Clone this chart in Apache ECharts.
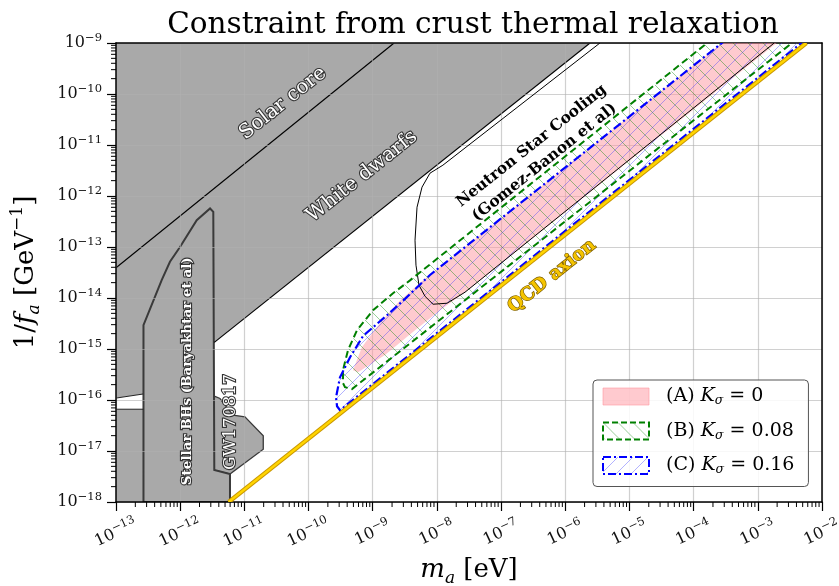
<!DOCTYPE html>
<html>
<head>
<meta charset="utf-8">
<script src="https://cdn.jsdelivr.net/npm/echarts@6/dist/echarts.min.js"></script>
<style>
  html, body { margin: 0; padding: 0; background: #fff; }
  #chart { width: 839px; height: 586px; }
</style>
</head>
<body>
<div id="chart"></div>
<script>
// ---- Axis extents (powers of ten) ----
const xDecades = [-13, -2];   // m_a [eV]
const yDecades = [-18, -9];   // 1/f_a [GeV^-1]

// ---- Excluded regions, points as [m_a (eV), 1/f_a (GeV^-1)] ----
const solarWdRegion = [[1e-13, 1e-9], [2.43e-6, 1e-9], [3.4e-12, 1.35e-15], [2.64e-13, 1.31e-16], [1e-13, 1.09e-16]];
const lowLeftRegion = [[1e-13, 6.6e-17], [2.68e-13, 6.6e-17], [2.68e-13, 1e-18], [1e-13, 1e-18]];
const solarCoreLine = [[1e-13, 3.9e-14], [2.15e-9, 1e-9]];
const whiteDwarfLine = [[3.4e-12, 1.35e-15], [2.43e-6, 1e-9]];
const stripTopLine = [[1e-13, 1.09e-16], [2.64e-13, 1.31e-16]];
const stripBottomLine = [[1e-13, 6.6e-17], [2.68e-13, 6.6e-17]];
const stellarBH = [[2.68e-13, 1e-18], [2.68e-13, 2.94e-15], [5.15e-13, 2.24e-14], [6.93e-13, 5.14e-14],
  [9.93e-13, 1.0e-13], [1.81e-12, 3.36e-13], [2.92e-12, 5.69e-13], [3.28e-12, 4.88e-13],
  [3.40e-12, 4.23e-18], [5.97e-12, 3.53e-18], [5.97e-12, 1e-18]];
const gw170817 = [[3.40e-12, 1.19e-16], [4.17e-12, 1.07e-16], [6.65e-12, 5.06e-17], [1.02e-11, 4.69e-17],
  [1.97e-11, 1.99e-17], [1.97e-11, 1.08e-17], [5.97e-12, 3.53e-18], [3.40e-12, 4.23e-18]];
const nsCooling = [[3.47e-6, 1e-9], [1.24e-8, 4.02e-12], [7.8e-9, 2.8e-12], [5.86e-9, 1.49e-12],
  [4.9e-9, 6.03e-13], [4.56e-9, 1.36e-13], [4.72e-9, 4.4e-14], [5.26e-9, 1.78e-14], [6.53e-9, 1.08e-14],
  [8.7e-9, 7.55e-15], [1.44e-8, 7.9e-15], [2.74e-8, 1.3e-14], [1.8e-3, 1e-9]];

// ---- Crust thermal relaxation constraints ----
const bandA = [[8.7e-4, 3.16e-9], [5.46e-9, 1.98e-14], [2.6e-9, 8.6e-15], [1.3e-9, 3.22e-15], [6.8e-10, 1.09e-15],
  [4.93e-10, 3.85e-16], [5.9e-10, 3.52e-16], [1.55e-9, 7.6e-16], [4.56e-9, 2.34e-15], [1.12e-8, 5.78e-15],
  [2.74e-8, 1.3e-14], [6.17e-3, 3.16e-9]];
const bandB = [[5.1e-4, 3.16e-9], [3.81e-9, 2.22e-14], [2.07e-9, 1.24e-14], [1.01e-9, 5.74e-15], [5.69e-10, 2.34e-15],
  [4.12e-10, 9.5e-16], [3.44e-10, 3.85e-16], [3.44e-10, 2.14e-16], [3.70e-10, 1.79e-16], [4.75e-10, 1.64e-16],
  [1.09e-2, 3.16e-9]];
const bandC = [[8.7e-4, 3.16e-9], [7.8e-9, 2.83e-14], [3.18e-9, 9.6e-15], [1.67e-9, 4.6e-15], [7.07e-10, 1.8e-15],
  [4.43e-10, 6.89e-16], [3.09e-10, 2.79e-16], [2.68e-10, 1.13e-16], [2.78e-10, 7.55e-17], [3.09e-10, 6.3e-17],
  [1.51e-2, 3.16e-9]];
// QCD axion: m_a = 5.7 ueV (10^12 GeV / f_a)
const qcdLine = [[5.7e-12, 1e-18], [5.7e-3, 1e-9]];

// ---- Annotations: text, anchor [m_a, 1/f_a] ----
const annotations = [
  { text: 'Solar core', at: [4.0e-11, 6.58e-11], kind: 'gray', along: true, size: 20 },
  { text: 'White dwarfs', at: [6.8e-10, 2.42e-12], kind: 'gray', along: true, size: 20 },
  { text: 'Stellar BHs (Baryakhtar et al)', at: [1.28e-12, 3.67e-16], kind: 'grayBold', along: false, size: 13.5 },
  { text: 'GW170817', at: [6.19e-12, 3.70e-17], kind: 'gray', along: false, size: 17 },
  { text: 'Neutron Star Cooling\n(Gomez-Banon et al)', at: [3.76e-7, 6.6e-12], kind: 'dark', along: true, size: 15.5 },
  { text: 'QCD axion', at: [6.2e-7, 2.67e-14], kind: 'gold', along: true, size: 18 }
];

const SERIF = '"DejaVu Serif", "Liberation Serif", serif';
const L = p => [Math.log10(p[0]), Math.log10(p[1])];

function hatch(color, dir, size) {
  const c = document.createElement('canvas');
  c.width = c.height = size;
  const g = c.getContext('2d');
  g.strokeStyle = color;
  g.lineWidth = 0.9;
  g.beginPath();
  if (dir > 0) {
    g.moveTo(-1, size + 1); g.lineTo(size + 1, -1);
    g.moveTo(-1, 1); g.lineTo(1, -1);
    g.moveTo(size - 1, size + 1); g.lineTo(size + 1, size - 1);
  } else {
    g.moveTo(-1, -1); g.lineTo(size + 1, size + 1);
    g.moveTo(size - 1, -1); g.lineTo(size + 1, 1);
    g.moveTo(-1, size - 1); g.lineTo(1, size + 1);
  }
  g.stroke();
  return { image: c, repeat: 'repeat' };
}
const hatchB = hatch('rgba(0,128,0,0.45)', -1, 15);
const hatchC = hatch('rgba(40,40,255,0.4)', 1, 15);

const PINK = 'rgba(255,150,160,0.5)';
const GRAY = '#a9a9a9';

function shapeSeries(name, pts, type, style, z) {
  return {
    type: 'custom', name: name, z: z, clip: true, silent: true,
    data: [[xDecades[0], yDecades[0]]],
    renderItem: (params, api) => ({
      type: type,
      shape: { points: pts.map(p => api.coord(L(p))) },
      style: style
    })
  };
}

const minorX = [], minorY = [];
for (let n = xDecades[0]; n < xDecades[1]; n++) for (let k = 2; k < 10; k++) minorX.push([n + Math.log10(k), yDecades[0]]);
for (let n = yDecades[0]; n < yDecades[1]; n++) for (let k = 2; k < 10; k++) minorY.push([xDecades[0], n + Math.log10(k)]);

function tickSeries(data, horizontal) {
  return {
    type: 'custom', z: 20, clip: false, silent: true, data: data,
    renderItem: (params, api) => {
      const p = api.coord([api.value(0), api.value(1)]);
      return {
        type: 'line',
        shape: horizontal ? { x1: p[0], y1: p[1], x2: p[0] - 5, y2: p[1] }
                          : { x1: p[0], y1: p[1], x2: p[0], y2: p[1] + 5 },
        style: { stroke: '#000', lineWidth: 1 }
      };
    }
  };
}

const textStyles = {
  gray: { fill: '#fff', stroke: '#333', lineWidth: 2.2, weight: 'normal' },
  grayBold: { fill: '#fff', stroke: '#333', lineWidth: 2.2, weight: 'bold' },
  dark: { fill: '#000', stroke: null, lineWidth: 0, weight: 'bold' },
  gold: { fill: '#f5c400', stroke: '#7a5c00', lineWidth: 1.4, weight: 'bold' }
};

const labelSeries = {
  type: 'custom', z: 30, clip: true, silent: true,
  data: annotations.map((a, i) => [Math.log10(a.at[0]), Math.log10(a.at[1]), i]),
  renderItem: (params, api) => {
    const a = annotations[api.value(2)];
    const x = api.value(0), y = api.value(1);
    const p = api.coord([x, y]);
    let rot = Math.PI / 2;
    if (a.along) {
      const q = api.coord([x + 1, y + 1]);
      rot = Math.atan2(p[1] - q[1], q[0] - p[0]);
    }
    const s = textStyles[a.kind];
    return {
      type: 'text', x: p[0], y: p[1], rotation: rot,
      style: {
        text: a.text, fill: s.fill, stroke: s.stroke, lineWidth: s.lineWidth, strokeFirst: true,
        font: s.weight + ' ' + a.size + 'px ' + SERIF, align: 'center', verticalAlign: 'middle', lineHeight: 21
      }
    };
  }
};

const tickRich = {
  b: { fontFamily: SERIF, fontSize: 16, color: '#111', lineHeight: 22 },
  e: { fontFamily: SERIF, fontSize: 11.5, color: '#111', lineHeight: 13, verticalAlign: 'top' }
};
const expLabel = v => '{b|10}{e|' + String(Math.round(v)).replace('-', '\u2212') + '}';

const nameRich = {
  n: { fontFamily: SERIF, fontSize: 26, color: '#000', lineHeight: 34 },
  i: { fontFamily: SERIF, fontSize: 26, fontStyle: 'italic', color: '#000', lineHeight: 34 },
  sub: { fontFamily: SERIF, fontSize: 17, fontStyle: 'italic', color: '#000', lineHeight: 18, verticalAlign: 'bottom' },
  sup: { fontFamily: SERIF, fontSize: 17, color: '#000', lineHeight: 16, verticalAlign: 'top' }
};

const legendRich = {
  n: { fontFamily: SERIF, fontSize: 19, color: '#000', lineHeight: 22 },
  p: { fontFamily: SERIF, fontSize: 19, color: '#000', lineHeight: 22, padding: [0, 0, 0, 12] },
  i: { fontFamily: SERIF, fontSize: 19, fontStyle: 'italic', color: '#000', lineHeight: 22 },
  s: { fontFamily: SERIF, fontSize: 12.5, fontStyle: 'italic', color: '#000', lineHeight: 14, verticalAlign: 'bottom' }
};
const legendText = { A: ['(A)', '0'], B: ['(B)', '0.08'], C: ['(C)', '0.16'] };

const chart = echarts.init(document.getElementById('chart'), null, { renderer: 'canvas' });
chart.setOption({
  animation: false,
  backgroundColor: '#fff',
  title: {
    text: 'Constraint from crust thermal relaxation',
    left: 468, top: 5, textAlign: 'center',
    textStyle: { fontFamily: SERIF, fontSize: 29.5, fontWeight: 'normal', color: '#000' }
  },
  grid: { left: 116, right: 17, top: 43, bottom: 84, containLabel: false, outerBoundsMode: 'none' },
  xAxis: [{
    type: 'value', min: xDecades[0], max: xDecades[1], interval: 1, z: 3,
    name: '{i|m}{sub|a}{n| [eV]}', nameLocation: 'middle', nameGap: 51,
    nameTextStyle: { rich: nameRich },
    axisLine: { lineStyle: { color: '#000', width: 1.5 } },
    axisTick: { inside: false, length: 9, lineStyle: { color: '#000', width: 1.2 } },
    axisLabel: { formatter: expLabel, rich: tickRich, rotate: 25, align: 'center', verticalAlign: 'middle', margin: 31, interval: 0 },
    splitLine: { show: true, lineStyle: { color: 'rgba(176,176,176,0.6)', width: 1.2 } }
  }, {
    type: 'value', min: xDecades[0], max: xDecades[1], position: 'top', z: 3,
    axisLine: { onZero: false, lineStyle: { color: '#000', width: 1.5 } },
    axisTick: { show: false }, axisLabel: { show: false }, splitLine: { show: false }
  }],
  yAxis: [{
    type: 'value', min: yDecades[0], max: yDecades[1], interval: 1, z: 3,
    name: '{n|1/}{i|f}{sub|a}{n| [GeV}{sup|\u22121}{n|]}', nameLocation: 'middle', nameGap: 73, nameRotate: 90,
    nameTextStyle: { rich: nameRich },
    axisLine: { lineStyle: { color: '#000', width: 1.5 } },
    axisTick: { inside: false, length: 9, lineStyle: { color: '#000', width: 1.2 } },
    axisLabel: { formatter: expLabel, rich: tickRich, margin: 14 },
    splitLine: { show: true, lineStyle: { color: 'rgba(176,176,176,0.6)', width: 1.2 } }
  }, {
    type: 'value', min: yDecades[0], max: yDecades[1], position: 'right', z: 3,
    axisLine: { onZero: false, lineStyle: { color: '#000', width: 1.5 } },
    axisTick: { show: false }, axisLabel: { show: false }, splitLine: { show: false }
  }],
  legend: {
    orient: 'vertical', left: 593, top: 380, icon: 'rect',
    itemWidth: 46, itemHeight: 17, itemGap: 14,
    padding: [7, 14, 10, 9],
    backgroundColor: 'rgba(255,255,255,0.85)', borderColor: '#555', borderWidth: 1, borderRadius: 4,
    data: [
      { name: 'A', itemStyle: { color: PINK, borderColor: 'rgba(255,150,160,0.6)', borderWidth: 1 } },
      { name: 'B', itemStyle: { color: hatchB, borderColor: '#008000', borderWidth: 2, borderType: [6, 3] } },
      { name: 'C', itemStyle: { color: hatchC, borderColor: '#0000ff', borderWidth: 2, borderType: [8, 3, 2, 3] } }
    ],
    formatter: n => '{p|' + legendText[n][0] + ' }{i|K}{s|\u03c3}{n| = ' + legendText[n][1] + '}',
    textStyle: { rich: legendRich },
    selectedMode: false
  },
  series: [
    shapeSeries('solarWd', solarWdRegion, 'polygon', { fill: GRAY }, 1),
    shapeSeries('lowLeft', lowLeftRegion, 'polygon', { fill: GRAY }, 1),
    shapeSeries('gw', gw170817, 'polygon', { fill: GRAY, stroke: '#3a3a3a', lineWidth: 1.3 }, 1),
    shapeSeries('bh', stellarBH, 'polygon', { fill: GRAY, stroke: '#3a3a3a', lineWidth: 2 }, 1),
    shapeSeries('solarLine', solarCoreLine, 'polyline', { stroke: '#000', lineWidth: 1.2, fill: null }, 1),
    shapeSeries('wdLine', whiteDwarfLine, 'polyline', { stroke: '#000', lineWidth: 1.2, fill: null }, 1),
    shapeSeries('stripTop', stripTopLine, 'polyline', { stroke: '#222', lineWidth: 1, fill: null }, 1),
    shapeSeries('stripBot', stripBottomLine, 'polyline', { stroke: '#222', lineWidth: 1, fill: null }, 1),
    shapeSeries('A', bandA, 'polygon', { fill: PINK }, 4),
    shapeSeries('B', bandB, 'polygon', { fill: hatchB }, 5),
    shapeSeries('C', bandC, 'polygon', { fill: hatchC }, 5),
    shapeSeries('ns', nsCooling, 'polyline', { stroke: '#000', lineWidth: 1, fill: null }, 6),
    shapeSeries('Bline', bandB, 'polygon', { fill: null, stroke: '#008000', lineWidth: 2, lineDash: [7, 4] }, 7),
    shapeSeries('Cline', bandC, 'polygon', { fill: null, stroke: '#0000ff', lineWidth: 2.2, lineDash: [9, 3, 2, 3] }, 8),
    shapeSeries('qcdEdge', qcdLine, 'polyline', { stroke: '#c99600', lineWidth: 4.4, fill: null }, 9),
    shapeSeries('qcd', qcdLine, 'polyline', { stroke: '#ffd400', lineWidth: 2.4, fill: null }, 9),
    labelSeries,
    tickSeries(minorX, false),
    tickSeries(minorY, true)
  ]
});
</script>
</body>
</html>
